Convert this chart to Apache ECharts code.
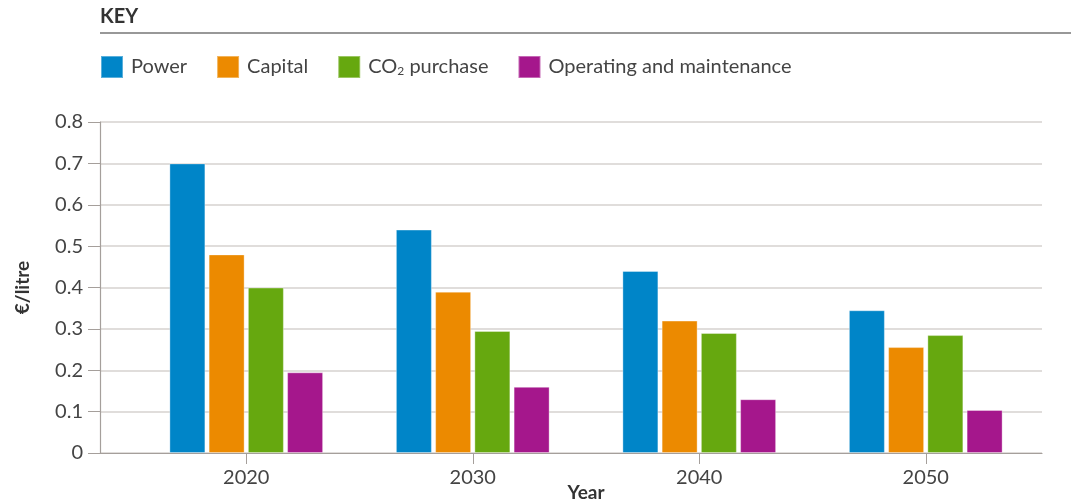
<!DOCTYPE html>
<html>
<head>
<meta charset="utf-8">
<script src="https://cdn.jsdelivr.net/npm/echarts@6/dist/echarts.min.js"></script>
<style>html,body{margin:0;padding:0;background:#fff;}#c{width:1071px;height:503px;}</style>
</head>
<body>
<div id="c"></div>
<script>
const categories = ['2020', '2030', '2040', '2050'];
const seriesNames = ['Power', 'Capital', 'CO2 purchase', 'Operating and maintenance'];
const power = [0.70, 0.54, 0.44, 0.345];
const capital = [0.48, 0.39, 0.32, 0.256];
const co2 = [0.40, 0.295, 0.29, 0.285];
const om = [0.195, 0.16, 0.13, 0.104];
const yTicks = [0, 0.1, 0.2, 0.3, 0.4, 0.5, 0.6, 0.7, 0.8];

const colors = ['#0085C8', '#EC8A00', '#66A80F', '#A5178C'];
const FONT = 'Lato, "Open Sans", sans-serif';
const values = [power, capital, co2, om];

const chart = echarts.init(document.getElementById('c'), null, {renderer: 'canvas'});
chart.setOption({
  animation: false,
  color: colors,
  textStyle: {fontFamily: FONT},
  graphic: [
    {type: 'text', left: 100, top: 7, style: {text: 'KEY', font: 'bold 20px ' + FONT, fill: '#333'}},
    {type: 'line', shape: {x1: 100, y1: 33, x2: 1071, y2: 33}, style: {stroke: '#333', lineWidth: 1.2}}
  ],
  legend: {
    left: 100, top: 55, padding: 0,
    itemWidth: 22, itemHeight: 22, itemGap: 29,
    icon: 'rect',
    data: seriesNames,
    textStyle: {
      fontFamily: FONT, fontSize: 20, color: '#444', padding: [0, 0, 0, 3],
      rich: {
        t: {fontFamily: FONT, fontSize: 20, color: '#444'},
        sub: {fontFamily: FONT, fontSize: 12, color: '#444', padding: [8, 0, 0, 0]}
      }
    },
    formatter: function (n) {
      if (n === 'CO2 purchase') return '{t|CO}{sub|2}{t| purchase}';
      return n;
    }
  },
  grid: [
    {left: 100, right: 29, top: 122, bottom: 50, outerBoundsMode: 'none', containLabel: false},
    {left: 133, right: 32, top: 122, bottom: 50, outerBoundsMode: 'none', containLabel: false}
  ],
  xAxis: [
    {
      gridIndex: 0, type: 'value', min: 0, max: 1,
      axisLine: {show: true, lineStyle: {color: '#a59f9b', width: 1.2}},
      axisTick: {show: false}, axisLabel: {show: false}, splitLine: {show: false}
    },
    {
      gridIndex: 1, type: 'category', data: categories,
      name: 'Year', nameLocation: 'middle', nameGap: 30, nameMoveOverlap: false,
      nameTextStyle: {fontFamily: FONT, fontSize: 19, fontWeight: 'bold', color: '#333'},
      axisLine: {show: false},
      axisTick: {show: true, alignWithLabel: true, length: 11, lineStyle: {color: '#a59f9b'}},
      axisLabel: {fontFamily: FONT, fontSize: 20, color: '#444', margin: 15},
      splitLine: {show: false}
    }
  ],
  yAxis: [
    {
      gridIndex: 0, type: 'value', min: 0, max: 0.8, interval: 0.1,
      name: '€/litre', nameLocation: 'middle', nameGap: 68, nameRotate: 90, nameMoveOverlap: false,
      nameTextStyle: {fontFamily: FONT, fontSize: 19, fontWeight: 'bold', color: '#333'},
      axisLine: {show: true, lineStyle: {color: '#a59f9b', width: 1.2}},
      axisTick: {show: true, inside: false, length: 12, lineStyle: {color: '#a59f9b'}},
      axisLabel: {
        fontFamily: FONT, fontSize: 20, color: '#444', margin: 17,
        formatter: function (v) { const t = yTicks.find(x => Math.abs(x - v) < 1e-9); return t === undefined ? '' : String(+t.toFixed(1)); }
      },
      splitLine: {show: true, lineStyle: {color: '#d6d2cf', width: 1.5}}
    },
    {
      gridIndex: 1, type: 'value', min: 0, max: 0.8, interval: 0.1, show: false,
      splitLine: {show: false}
    }
  ],
  series: seriesNames.map((n, i) => ({
    name: n, type: 'bar', xAxisIndex: 1, yAxisIndex: 1,
    data: values[i],
    barWidth: 36, barGap: '9%',
    itemStyle: {color: colors[i], borderColor: 'rgba(255,255,255,0.35)', borderWidth: 1}
  }))
});
</script>
</body>
</html>
